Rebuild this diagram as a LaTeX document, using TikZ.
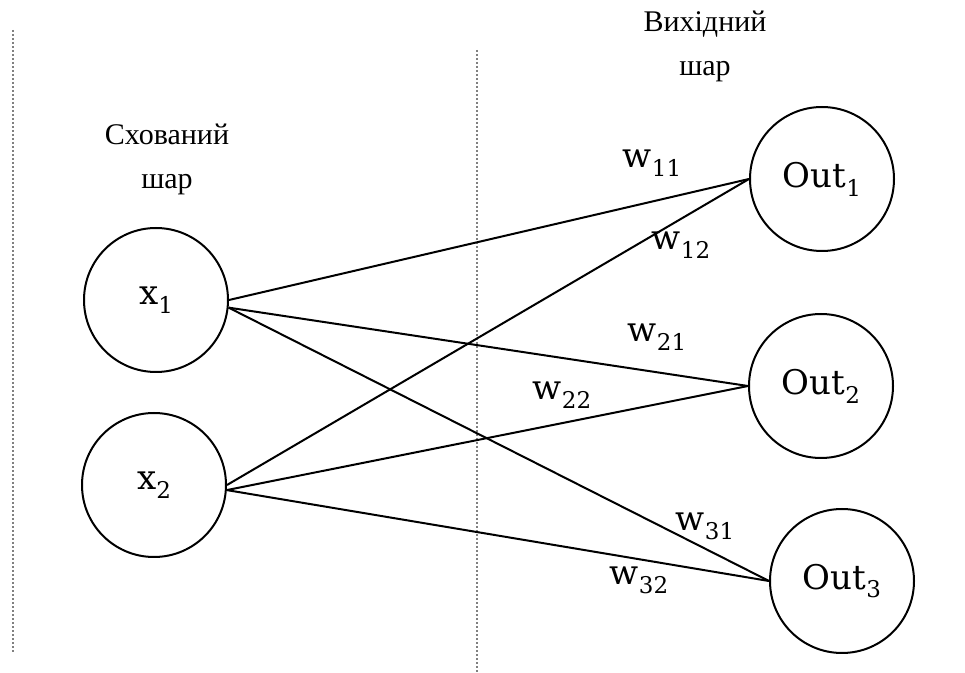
\documentclass[tikz,border=0pt]{standalone}
\usepackage{fontspec}
\setmainfont{Liberation Serif}
\newfontfamily\labelfont{DejaVu Serif}
\usetikzlibrary{positioning}

\tikzset{
  neuron/.style={draw, circle, line width=1pt, minimum size=72pt, inner sep=0pt, font=\labelfont\fontsize{17}{20}\selectfont},
  wlabel/.style={font=\labelfont\fontsize{17}{20}\selectfont, inner sep=0pt},
  layertitle/.style={align=center, font=\fontsize{15}{22}\selectfont},
  link/.style={line width=1pt},
  divider/.style={gray, line width=0.6pt, dash pattern=on 1pt off 1pt}
}
\newcommand{\lsub}[1]{\raisebox{-0.5ex}{\fontsize{11.5}{12}\selectfont #1}}

\begin{document}
\begin{tikzpicture}[x=0.5pt,y=-0.5pt]
\useasboundingbox (0,0) rectangle (965,673);

% layer borders
\coordinate (lefttop) at (13,30);
\coordinate (leftbot) at (13,653);
\coordinate (midtop) at (477,50);
\coordinate (midbot) at (477,673);
\draw[divider] (lefttop) -- (leftbot);
\draw[divider] (midtop) -- (midbot);

% titles
\node[layertitle] (hidden) at (167,159) {Схований\\шар};
\node[layertitle] (output) at (705,46) {Вихідний\\шар};

% neurons
\node[neuron] (x1) at (156,300) {x\lsub{1}};
\node[neuron] (x2) at (154,485) {x\lsub{2}};
\node[neuron] (out1) at (822,179) {Out\lsub{1}};
\node[neuron] (out2) at (821,386) {Out\lsub{2}};
\node[neuron] (out3) at (842,581) {Out\lsub{3}};

% weights
\draw[link] (x1.east) -- (out1.west);
\draw[link] (x1.-6) -- (out2.west);
\draw[link] (x1.-6) -- (out3.west);
\draw[link] (x2.east) -- (out1.west);
\draw[link] (x2.-4) -- (out2.west);
\draw[link] (x2.-4) -- (out3.west);

\node[wlabel] (w11) at (652,163) {w\lsub{11}};
\node[wlabel] (w12) at (681,245) {w\lsub{12}};
\node[wlabel] (w21) at (657,337) {w\lsub{21}};
\node[wlabel] (w22) at (562,395) {w\lsub{22}};
\node[wlabel] (w31) at (705,526) {w\lsub{31}};
\node[wlabel] (w32) at (639,580) {w\lsub{32}};
\end{tikzpicture}
\end{document}
